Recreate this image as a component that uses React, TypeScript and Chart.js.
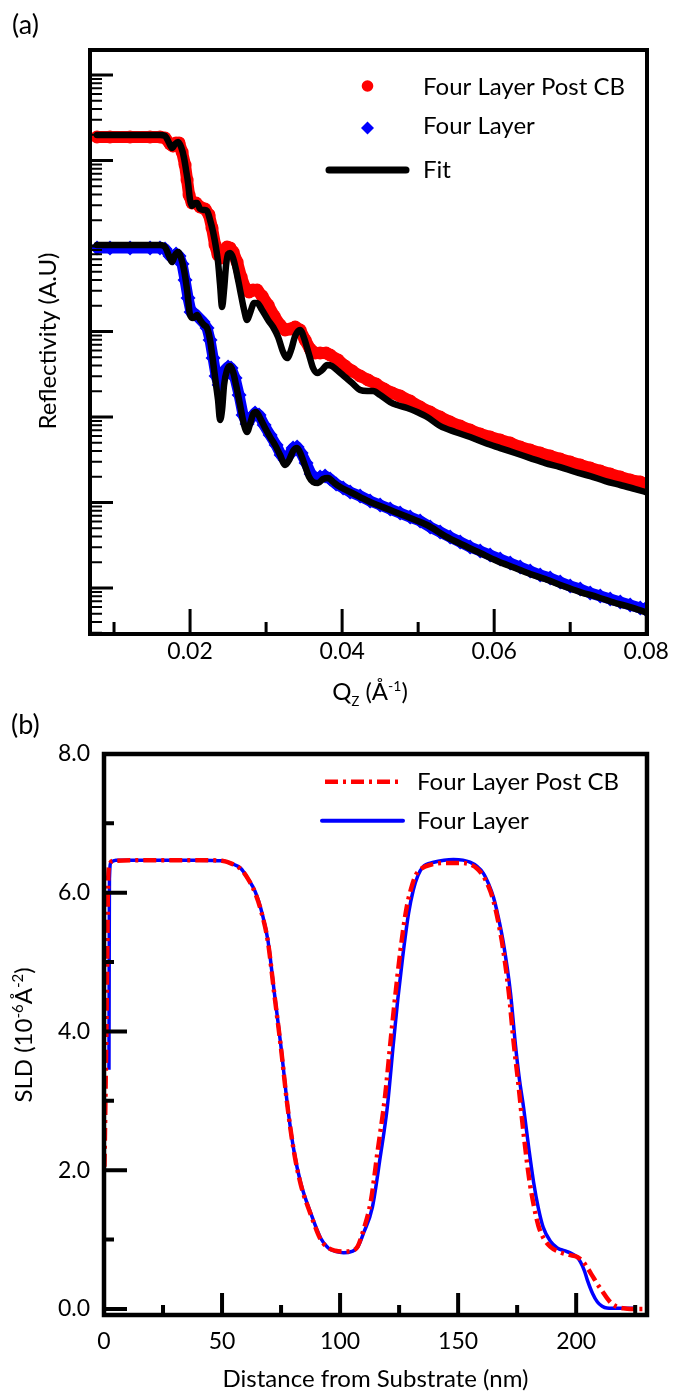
import React, { useEffect, useRef } from "react";
import { Chart, registerables } from "chart.js";

Chart.register(...registerables);

const FONT = "Lato, 'Open Sans', sans-serif";

// ---------- Panel (a): reflectivity (q in Å^-1, reflectivity stored as log10 R, arbitrary units) ----------
const qPostCB = [0.00776,0.00947,0.01211,0.01474,0.01605,0.01671,0.01737,0.01776,0.01816,0.01855,0.01895,0.01934,0.01961,0.01987,0.02026,0.02079,0.02132,0.02197,0.02250,0.02289,0.02329,0.02368,0.02408,0.02447,0.02487,0.02526,0.02566,0.02618,0.02671,0.02724,0.02776,0.02829,0.02882,0.02947,0.03026,0.03105,0.03184,0.03250,0.03316,0.03382,0.03447,0.03513,0.03579,0.03645,0.03711,0.03789,0.03842,0.03947,0.04039,0.04132,0.04237,0.04342,0.04447,0.04553,0.04658,0.04763,0.04895,0.05026,0.05158,0.05289,0.05421,0.05553,0.05684,0.05816,0.05947,0.06079,0.06211,0.06342,0.06474,0.06605,0.06737,0.06868,0.07000,0.07132,0.07263,0.07395,0.07526,0.07658,0.07789,0.07921,0.07987];
const logRPostCB = [1.275,1.275,1.275,1.275,1.275,1.263,1.193,1.170,1.205,1.205,1.099,0.947,0.772,0.596,0.503,0.503,0.456,0.433,0.363,0.211,0.012,-0.105,-0.140,-0.070,-0.012,-0.023,-0.070,-0.187,-0.363,-0.491,-0.538,-0.515,-0.515,-0.585,-0.690,-0.819,-0.924,-0.982,-0.971,-0.947,-0.982,-1.099,-1.205,-1.251,-1.251,-1.251,-1.275,-1.333,-1.404,-1.462,-1.520,-1.567,-1.614,-1.673,-1.719,-1.754,-1.813,-1.883,-1.942,-2.000,-2.058,-2.105,-2.152,-2.199,-2.234,-2.269,-2.304,-2.351,-2.386,-2.421,-2.456,-2.491,-2.526,-2.561,-2.596,-2.632,-2.667,-2.702,-2.737,-2.760,-2.784];

const qFour = [0.00776,0.00947,0.01211,0.01474,0.01605,0.01671,0.01737,0.01776,0.01816,0.01855,0.01895,0.01934,0.01974,0.02013,0.02066,0.02118,0.02171,0.02224,0.02263,0.02303,0.02342,0.02382,0.02421,0.02461,0.02500,0.02539,0.02592,0.02645,0.02697,0.02750,0.02803,0.02855,0.02908,0.02974,0.03053,0.03132,0.03197,0.03250,0.03303,0.03355,0.03408,0.03461,0.03526,0.03592,0.03645,0.03711,0.03776,0.03842,0.03921,0.04013,0.04105,0.04237,0.04368,0.04500,0.04632,0.04763,0.04895,0.05026,0.05158,0.05289,0.05421,0.05553,0.05684,0.05816,0.05947,0.06079,0.06211,0.06342,0.06474,0.06605,0.06737,0.06868,0.07000,0.07132,0.07263,0.07395,0.07526,0.07658,0.07789,0.07921,0.07987];
const logRFour = [-0.023,-0.023,-0.023,-0.023,-0.023,-0.035,-0.117,-0.140,-0.094,-0.117,-0.211,-0.398,-0.608,-0.772,-0.795,-0.842,-0.889,-0.959,-1.099,-1.310,-1.520,-1.626,-1.544,-1.450,-1.415,-1.427,-1.544,-1.743,-1.977,-2.082,-2.012,-1.953,-1.977,-2.094,-2.211,-2.327,-2.444,-2.503,-2.444,-2.363,-2.351,-2.421,-2.538,-2.667,-2.713,-2.702,-2.690,-2.725,-2.784,-2.830,-2.877,-2.924,-2.982,-3.029,-3.076,-3.123,-3.170,-3.216,-3.287,-3.345,-3.404,-3.462,-3.520,-3.567,-3.614,-3.661,-3.708,-3.754,-3.801,-3.848,-3.883,-3.930,-3.977,-4.012,-4.058,-4.094,-4.129,-4.164,-4.199,-4.234,-4.246];

const qFitPostCB = [0.00776,0.00947,0.01211,0.01474,0.01605,0.01671,0.01724,0.01763,0.01803,0.01842,0.01882,0.01921,0.01947,0.01974,0.02000,0.02026,0.02066,0.02092,0.02132,0.02184,0.02224,0.02263,0.02303,0.02342,0.02368,0.02395,0.02421,0.02447,0.02474,0.02500,0.02526,0.02566,0.02605,0.02658,0.02711,0.02750,0.02789,0.02842,0.02882,0.02947,0.03026,0.03092,0.03158,0.03224,0.03276,0.03329,0.03382,0.03447,0.03500,0.03566,0.03618,0.03671,0.03737,0.03803,0.03868,0.03947,0.04039,0.04132,0.04237,0.04329,0.04408,0.04500,0.04632,0.04724,0.04855,0.04987,0.05118,0.05289,0.05487,0.05684,0.05882,0.06079,0.06276,0.06474,0.06671,0.06868,0.07066,0.07263,0.07461,0.07658,0.07855,0.07987];
const logRFitPostCB = [1.298,1.298,1.298,1.298,1.298,1.287,1.205,1.146,1.193,1.216,1.158,1.029,0.889,0.737,0.538,0.468,0.503,0.503,0.433,0.421,0.409,0.304,0.164,-0.023,-0.187,-0.456,-0.713,-0.515,-0.222,-0.094,-0.082,-0.140,-0.281,-0.515,-0.749,-0.865,-0.784,-0.667,-0.667,-0.749,-0.865,-0.947,-1.064,-1.240,-1.310,-1.216,-1.053,-0.982,-1.076,-1.275,-1.427,-1.485,-1.450,-1.392,-1.404,-1.462,-1.532,-1.602,-1.684,-1.696,-1.696,-1.743,-1.825,-1.860,-1.895,-1.942,-2.000,-2.105,-2.175,-2.234,-2.304,-2.363,-2.421,-2.480,-2.538,-2.585,-2.643,-2.690,-2.749,-2.795,-2.842,-2.877];

const qFitFour = [0.00776,0.00947,0.01211,0.01474,0.01605,0.01671,0.01724,0.01763,0.01803,0.01842,0.01882,0.01921,0.01961,0.02000,0.02039,0.02092,0.02132,0.02184,0.02224,0.02263,0.02303,0.02342,0.02368,0.02395,0.02421,0.02447,0.02487,0.02526,0.02566,0.02605,0.02658,0.02711,0.02750,0.02789,0.02829,0.02868,0.02921,0.02987,0.03053,0.03118,0.03184,0.03250,0.03303,0.03355,0.03408,0.03461,0.03513,0.03566,0.03618,0.03684,0.03750,0.03816,0.03882,0.03974,0.04105,0.04237,0.04368,0.04500,0.04632,0.04763,0.04895,0.05118,0.05355,0.05592,0.05816,0.06039,0.06276,0.06474,0.06671,0.06908,0.07132,0.07355,0.07592,0.07789,0.07987];
const logRFitFour = [0.012,0.012,0.012,0.012,0.012,-0.012,-0.117,-0.187,-0.105,-0.070,-0.140,-0.281,-0.515,-0.807,-0.842,-0.807,-0.865,-0.924,-0.959,-1.099,-1.357,-1.626,-1.801,-2.035,-1.918,-1.626,-1.450,-1.404,-1.474,-1.626,-1.860,-2.094,-2.175,-2.082,-1.965,-1.942,-2.012,-2.129,-2.234,-2.327,-2.444,-2.561,-2.503,-2.398,-2.363,-2.444,-2.573,-2.702,-2.760,-2.772,-2.725,-2.713,-2.760,-2.819,-2.877,-2.936,-2.994,-3.041,-3.088,-3.135,-3.181,-3.263,-3.392,-3.497,-3.591,-3.684,-3.766,-3.836,-3.895,-3.977,-4.047,-4.105,-4.175,-4.222,-4.281];

const qMajorTicks = [0.02, 0.04, 0.06, 0.08];
const qMinorTicks = [0.01, 0.03, 0.05, 0.07];
const rDecades = [1e-5, 1e-4, 1e-3, 1e-2, 1e-1, 1, 10, 100];

// ---------- Panel (b): SLD profile (nm, 10^-6 Å^-2) ----------
const zPostCB = [0.2,0.6,1.0,1.4,1.7,2.3,4,20,40,50,54,58,61,64,67,69.5,72,74.9,77.8,80.4,83.3,87.6,91.8,95,98,101.5,105,107.4,110,113,116,119,121.5,123.5,125.5,128,130,132,134.5,139,144,150,155,158,160.5,163,165,167,169,171.5,173.5,175.5,177.5,180,182,184,186,189,193,197,200.5,203,205,207,209,211,213,215,217.5,220,223,230];
const sldPostCB = [2.05,3.0,4.0,5.2,6.1,6.4,6.46,6.47,6.47,6.46,6.42,6.34,6.2,6.0,5.68,5.28,4.58,3.78,2.9,2.28,1.8,1.36,1.0,0.88,0.84,0.83,0.84,0.9,1.15,1.55,2.3,3.05,3.9,4.55,5.15,5.75,6.05,6.25,6.35,6.41,6.43,6.43,6.41,6.35,6.25,6.08,5.88,5.58,5.2,4.55,3.85,3.25,2.6,1.9,1.5,1.2,1.03,0.9,0.82,0.78,0.75,0.68,0.58,0.47,0.36,0.26,0.16,0.08,0.03,0.01,0.0,0.0];
const zFour = [2.1,2.2,2.3,3.0,5,20,40,50,54,58,61,64,67,69.5,72,74.9,77.8,80.4,83.3,87.6,91.8,95,98,101.5,105,107.4,110,113.7,117,120,122.5,124.4,126.5,129,131,133,135,139.7,144,148,152,155,158,160.7,163,165,167,169.2,172.2,174.3,176,177.7,180,182,184,186,189,192,195,197.5,200,201.8,203.5,204.7,207,209,211,213,218,225];
const sldFour = [3.45,5.0,6.2,6.44,6.47,6.47,6.47,6.46,6.42,6.35,6.2,6.02,5.7,5.3,4.6,3.8,2.91,2.29,1.82,1.38,1.02,0.88,0.83,0.81,0.83,0.89,1.1,1.47,2.19,2.91,3.8,4.45,5.07,5.7,6.04,6.25,6.37,6.44,6.47,6.48,6.47,6.44,6.38,6.28,6.12,5.93,5.65,5.27,4.55,3.8,3.3,2.91,2.3,1.82,1.45,1.18,0.98,0.88,0.84,0.81,0.76,0.68,0.55,0.42,0.22,0.1,0.04,0.015,0.01,0.01];

const zMajorTicks = [0, 50, 100, 150, 200];
const zMinorTicks = [25, 75, 125, 175, 225];
const sldMajorTicks = [0, 2, 4, 6, 8];
const sldMinorTicks = [1, 3, 5, 7];

const seriesNames = ["Four Layer Post CB", "Four Layer", "Fit"];
const RED = "#ff0000";
const BLUE = "#0000ff";

// ---------- helpers ----------
type Piece = [string, number, number];

const toPts = (xs: number[], ys: number[], f?: (v: number) => number) => {
  const n = Math.min(xs.length, ys.length);
  const out: { x: number; y: number }[] = [];
  for (let i = 0; i < n; i++) out.push({ x: xs[i], y: f ? f(ys[i]) : ys[i] });
  return out;
};
const fromLog = (v: number) => Math.pow(10, v);

function drawFrame(chart: any, w: number) {
  const { ctx, chartArea: a } = chart;
  ctx.save();
  ctx.strokeStyle = "#000";
  ctx.lineWidth = w;
  ctx.lineJoin = "miter";
  ctx.strokeRect(a.left, a.top, a.right - a.left, a.bottom - a.top);
  ctx.restore();
}

function drawTicks(chart: any, axis: "x" | "y", values: number[], len: number, width: number) {
  const { ctx, chartArea: a } = chart;
  const s = chart.scales[axis];
  ctx.save();
  ctx.strokeStyle = "#000";
  ctx.lineWidth = width;
  ctx.lineCap = "butt";
  ctx.beginPath();
  values.forEach((v) => {
    const p = s.getPixelForValue(v);
    if (axis === "x") {
      if (p < a.left - 1 || p > a.right + 1) return;
      ctx.moveTo(p, a.bottom);
      ctx.lineTo(p, a.bottom - len);
    } else {
      if (p < a.top - 1 || p > a.bottom + 1) return;
      ctx.moveTo(a.left, p);
      ctx.lineTo(a.left + len, p);
    }
  });
  ctx.stroke();
  ctx.restore();
}

function drawPieces(ctx: CanvasRenderingContext2D, pieces: Piece[], cx: number, baseline: number, align: "center" | "left" = "center") {
  ctx.save();
  ctx.fillStyle = "#000";
  ctx.textBaseline = "alphabetic";
  ctx.textAlign = "left";
  let total = 0;
  const widths = pieces.map(([t, s]) => {
    ctx.font = `${s}px ${FONT}`;
    const w = ctx.measureText(t).width;
    total += w;
    return w;
  });
  let x = align === "center" ? cx - total / 2 : cx;
  pieces.forEach(([t, s, dy], i) => {
    ctx.font = `${s}px ${FONT}`;
    ctx.fillText(t, x, baseline + dy);
    x += widths[i];
  });
  ctx.restore();
}

function drawRotated(ctx: CanvasRenderingContext2D, pieces: Piece[], x: number, y: number) {
  ctx.save();
  ctx.translate(x, y);
  ctx.rotate(-Math.PI / 2);
  drawPieces(ctx, pieces, 0, 0);
  ctx.restore();
}

function line(ctx: CanvasRenderingContext2D, x1: number, y1: number, x2: number, y2: number, w: number, color: string, cap: CanvasLineCap = "butt", dash: number[] = []) {
  ctx.save();
  ctx.strokeStyle = color;
  ctx.lineWidth = w;
  ctx.lineCap = cap;
  ctx.setLineDash(dash);
  ctx.beginPath();
  ctx.moveTo(x1, y1);
  ctx.lineTo(x2, y2);
  ctx.stroke();
  ctx.restore();
}

// ---------- panel (a) ----------
const decoA = {
  id: "decoA",
  afterDraw(chart: any) {
    const ctx: CanvasRenderingContext2D = chart.ctx;
    const ys = chart.scales.y;
    const minors: number[] = [];
    rDecades.forEach((d) => {
      for (let m = 2; m <= 9; m++) {
        const v = m * d;
        if (v >= ys.min && v <= ys.max) minors.push(v);
      }
    });
    drawTicks(chart, "y", minors, 12, 2);
    drawTicks(chart, "y", rDecades.filter((v) => v >= ys.min && v <= ys.max), 23, 3);
    drawTicks(chart, "x", qMinorTicks, 12, 3);
    drawTicks(chart, "x", qMajorTicks, 25, 3);
    drawFrame(chart, 4);

    // panel label
    drawPieces(ctx, [["(a)", 27, 0]], 12, 34, "left");
    // axis titles
    drawRotated(ctx, [["Reflectivity (A.U)", 24, 0]], 56, 341);
    drawPieces(ctx, [["Q", 24, 0], ["Z", 13, 6], [" (Å", 24, 0], ["-1", 14, -9], [")", 24, 0]], 370, 700);

    // legend
    ctx.save();
    ctx.fillStyle = RED;
    ctx.beginPath();
    ctx.arc(367.5, 86, 5.8, 0, Math.PI * 2);
    ctx.fill();
    ctx.fillStyle = BLUE;
    ctx.beginPath();
    ctx.moveTo(367.5, 121.5);
    ctx.lineTo(374, 128);
    ctx.lineTo(367.5, 134.5);
    ctx.lineTo(361, 128);
    ctx.closePath();
    ctx.fill();
    ctx.restore();
    line(ctx, 329, 170, 406, 170, 7, "#000", "round");
    drawPieces(ctx, [[seriesNames[0], 24, 0]], 423, 95, "left");
    drawPieces(ctx, [[seriesNames[1], 24, 0]], 423, 133.5, "left");
    drawPieces(ctx, [[seriesNames[2], 24, 0]], 423, 178, "left");
  },
};

function buildA(canvas: HTMLCanvasElement) {
  return new Chart(canvas, {
    type: "scatter",
    data: {
      datasets: [
        {
          label: "Fit",
          data: toPts(qFitPostCB, logRFitPostCB, fromLog),
          showLine: true,
          borderColor: "#000",
          borderWidth: 6.5,
          pointRadius: 0,
          cubicInterpolationMode: "monotone",
          borderJoinStyle: "round",
          borderCapStyle: "round",
          order: 0,
        },
        {
          label: "Fit",
          data: toPts(qFitFour, logRFitFour, fromLog),
          showLine: true,
          borderColor: "#000",
          borderWidth: 6.5,
          pointRadius: 0,
          cubicInterpolationMode: "monotone",
          borderJoinStyle: "round",
          borderCapStyle: "round",
          order: 0,
        },
        {
          label: seriesNames[1],
          data: toPts(qFour, logRFour, fromLog),
          showLine: true,
          borderColor: BLUE,
          borderWidth: 11,
          borderJoinStyle: "round",
          pointStyle: "rectRot",
          pointRadius: 7.5,
          pointBackgroundColor: BLUE,
          pointBorderWidth: 0,
          order: 1,
        },
        {
          label: seriesNames[0],
          data: toPts(qPostCB, logRPostCB, fromLog),
          showLine: true,
          borderColor: RED,
          borderWidth: 12,
          borderJoinStyle: "round",
          pointStyle: "circle",
          pointRadius: 6.5,
          pointBackgroundColor: RED,
          pointBorderWidth: 0,
          order: 2,
        },
      ],
    } as any,
    options: {
      responsive: false,
      animation: false,
      events: [],
      layout: { padding: { top: 50, right: 28, left: 0, bottom: 0 } },
      plugins: { legend: { display: false }, tooltip: { enabled: false } },
      scales: {
        x: {
          type: "linear",
          min: 0.00684,
          max: 0.0801,
          grid: { display: false, drawTicks: false },
          border: { display: false },
          afterBuildTicks: (s: any) => {
            s.ticks = qMajorTicks.map((v) => ({ value: v }));
          },
          afterFit: (s: any) => {
            s.height = 78;
          },
          ticks: {
            autoSkip: false,
            maxRotation: 0,
            padding: 4,
            color: "#000",
            font: { family: FONT, size: 23 },
            callback: (v: any) => Number(v).toFixed(2),
          },
        },
        y: {
          type: "logarithmic",
          min: 2.9e-5,
          max: 196,
          grid: { display: false, drawTicks: false },
          border: { display: false },
          ticks: { display: false },
          afterFit: (s: any) => {
            s.width = 90;
          },
        },
      },
    } as any,
    plugins: [decoA],
  });
}

// ---------- panel (b) ----------
const decoB = {
  id: "decoB",
  afterDraw(chart: any) {
    const ctx: CanvasRenderingContext2D = chart.ctx;
    drawTicks(chart, "y", sldMinorTicks, 10, 4);
    drawTicks(chart, "y", sldMajorTicks, 23, 4);
    drawTicks(chart, "x", zMinorTicks, 10, 4);
    drawTicks(chart, "x", zMajorTicks, 22, 4);
    drawFrame(chart, 4.5);

    drawPieces(ctx, [["(b)", 27, 0]], 11, 34, "left");
    drawRotated(ctx, [["SLD (10", 24, 0], ["-6", 15, -9], ["Å", 24, 0], ["-2", 15, -9], [")", 24, 0]], 32, 335);
    drawPieces(ctx, [["Distance from Substrate (nm)", 24, 0]], 375.5, 687);

    line(ctx, 325, 81.7, 399, 81.7, 4.5, RED, "butt", [13, 5, 3, 5]);
    line(ctx, 322, 120.7, 403, 120.7, 4, BLUE, "round");
    drawPieces(ctx, [[seriesNames[0], 24, 0]], 417, 90, "left");
    drawPieces(ctx, [[seriesNames[1], 24, 0]], 417, 129, "left");
  },
};

function buildB(canvas: HTMLCanvasElement) {
  return new Chart(canvas, {
    type: "scatter",
    data: {
      datasets: [
        {
          label: seriesNames[0],
          data: toPts(zPostCB, sldPostCB),
          showLine: true,
          borderColor: RED,
          borderWidth: 4.5,
          borderDash: [13, 5, 3, 5],
          pointRadius: 0,
          cubicInterpolationMode: "monotone",
          order: 0,
        },
        {
          label: seriesNames[1],
          data: toPts(zFour, sldFour),
          showLine: true,
          borderColor: BLUE,
          borderWidth: 3.5,
          pointRadius: 0,
          cubicInterpolationMode: "monotone",
          order: 1,
        },
      ],
    } as any,
    options: {
      responsive: false,
      animation: false,
      events: [],
      layout: { padding: { top: 54, right: 28, left: 0, bottom: 0 } },
      plugins: { legend: { display: false }, tooltip: { enabled: false } },
      scales: {
        x: {
          type: "linear",
          min: 0,
          max: 230,
          grid: { display: false, drawTicks: false },
          border: { display: false },
          afterBuildTicks: (s: any) => {
            s.ticks = zMajorTicks.map((v) => ({ value: v }));
          },
          afterFit: (s: any) => {
            s.height = 78;
          },
          ticks: {
            autoSkip: false,
            maxRotation: 0,
            padding: 13,
            color: "#000",
            font: { family: FONT, size: 23 },
            callback: (v: any) => String(v),
          },
        },
        y: {
          type: "linear",
          min: -0.0865,
          max: 8,
          grid: { display: false, drawTicks: false },
          border: { display: false },
          afterBuildTicks: (s: any) => {
            s.ticks = sldMajorTicks.map((v) => ({ value: v }));
          },
          afterFit: (s: any) => {
            s.width = 104;
          },
          ticks: {
            autoSkip: false,
            padding: 14,
            color: "#000",
            font: { family: FONT, size: 23 },
            callback: (v: any) => Number(v).toFixed(1),
          },
        },
      },
    } as any,
    plugins: [decoB],
  });
}

function ChartCanvas({ build, top, height }: { build: (c: HTMLCanvasElement) => Chart; top: number; height: number }) {
  const ref = useRef<HTMLCanvasElement>(null);
  useEffect(() => {
    if (!ref.current) return;
    const chart = build(ref.current);
    return () => chart.destroy();
  }, []);
  return (
    <canvas
      ref={ref}
      width={675}
      height={height}
      style={{ position: "absolute", left: 0, top, width: 675, height, display: "block" }}
    />
  );
}

export default function App() {
  return (
    <div style={{ position: "absolute", left: 0, top: 0, width: 675, height: 1393, background: "#fff", overflow: "hidden" }}>
      <ChartCanvas build={buildA} top={0} height={712} />
      <ChartCanvas build={buildB} top={700} height={693} />
    </div>
  );
}
